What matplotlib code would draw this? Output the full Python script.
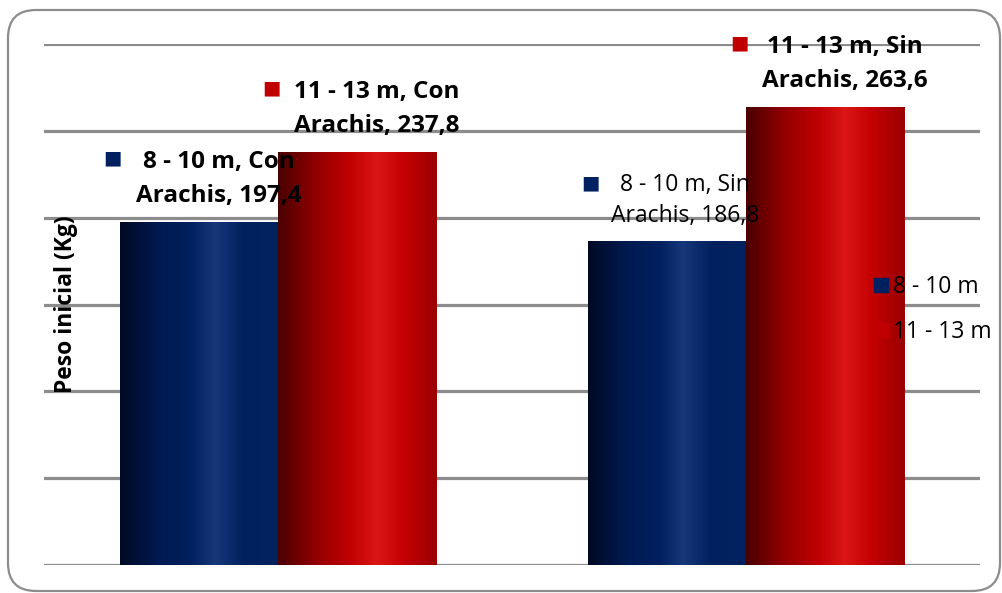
import numpy as np
import matplotlib
matplotlib.use('Agg')
import matplotlib.pyplot as plt
from matplotlib.colors import LinearSegmentedColormap
from matplotlib.patches import FancyBboxPatch
from matplotlib.lines import Line2D
from matplotlib.transforms import IdentityTransform

plt.rcParams['font.family'] = ['Open Sans', 'DejaVu Sans']

# Peso inicial por grupo de edad y tratamiento
grupos = ['Con Arachis', 'Sin Arachis']
series = ['8 - 10 m', '11 - 13 m']
peso_8_10 = [197.4, 186.8]
peso_11_13 = [237.8, 263.6]

azul = LinearSegmentedColormap.from_list('azul', [
    (0.0, '#000a24'), (0.25, '#001a52'), (0.45, '#00205e'),
    (0.6, '#17377a'), (0.78, '#00205e'), (1.0, '#022260')])
rojo = LinearSegmentedColormap.from_list('rojo', [
    (0.0, '#4a0000'), (0.25, '#960000'), (0.45, '#c00000'),
    (0.62, '#db1616'), (0.8, '#c30000'), (1.0, '#9a0000')])

fig = plt.figure(figsize=(10.02, 5.93), dpi=100)
ax = fig.add_axes([44 / 1002, 28 / 593, 936 / 1002, 521 / 593])

x = np.arange(len(grupos))
w = 0.338
b1 = ax.bar(x - w / 2, peso_8_10, w, facecolor='none', edgecolor='none', zorder=2)
b2 = ax.bar(x + w / 2, peso_11_13, w, facecolor='none', edgecolor='none', zorder=2)

# relleno degradado tipo cilindro
grad = np.linspace(0, 1, 256).reshape(1, -1)
for bars, cmap in [(b1, azul), (b2, rojo)]:
    for r in bars:
        x0, y0 = r.get_x(), r.get_y()
        im = ax.imshow(grad, cmap=cmap, aspect='auto', zorder=2,
                       extent=[x0, x0 + r.get_width(), y0, y0 + r.get_height()])
        im.set_clip_path(r)

ax.set_xlim(-0.5, 1.5)
ax.set_ylim(0, 300)
ax.set_yticks(np.arange(0, 301, 50))
ax.yaxis.grid(True, color='#8c8c8c', linewidth=2.3)
ax.set_axisbelow(True)
ax.tick_params(left=False, bottom=False, labelleft=False, labelbottom=False)
for s in ax.spines.values():
    s.set_visible(False)
ax.set_ylabel('Peso inicial (Kg)', fontsize=16.5, fontweight='bold')
ax.yaxis.set_label_coords(0.036, 0.5)

# etiquetas de datos con clave de leyenda
etiquetas = [
    (b1[0], '8 - 10 m, Con\nArachis, 197,4', 'bold', '#002060'),
    (b2[0], '11 - 13 m, Con\nArachis, 237,8', 'bold', '#c00000'),
    (b1[1], '8 - 10 m, Sin\nArachis, 186,8', 'normal', '#002060'),
    (b2[1], '11 - 13 m, Sin\nArachis, 263,6', 'bold', '#c00000'),
]
for r, txt, peso, col in etiquetas:
    cx = r.get_x() + r.get_width() / 2
    top = r.get_height()
    bold = peso == 'bold'
    ax.annotate(txt, (cx, top), xytext=(20 if bold else 18, 43 if bold else 40),
                textcoords='offset pixels', ha='center', va='center',
                fontsize=17.5 if bold else 16.5, fontweight=peso,
                linespacing=1.58 if bold else 1.42, zorder=5)
    ax.annotate('■', (cx, top), xytext=(-86 if bold else -76, 64 if bold else 58),
                textcoords='offset pixels', ha='center', va='center',
                fontsize=14, color=col, family='DejaVu Sans', zorder=5)

handles = [Line2D([], [], marker='s', linestyle='none', markersize=10,
                  color=c) for c in ['#002060', '#c00000']]
leg = ax.legend(handles, series, loc='center left', bbox_to_anchor=(0.885, 0.49),
                frameon=False, fontsize=16.5, handlelength=0.75, handletextpad=0.15,
                labelspacing=0.92, borderpad=0, borderaxespad=0)
leg.set_zorder(6)

fig.patches.append(FancyBboxPatch((8, 2), 992, 581,
                                  boxstyle='round,pad=0,rounding_size=28',
                                  transform=IdentityTransform(), facecolor='none',
                                  edgecolor='#8c8c8c', linewidth=1.6))

fig.savefig('out.png', dpi=100)
